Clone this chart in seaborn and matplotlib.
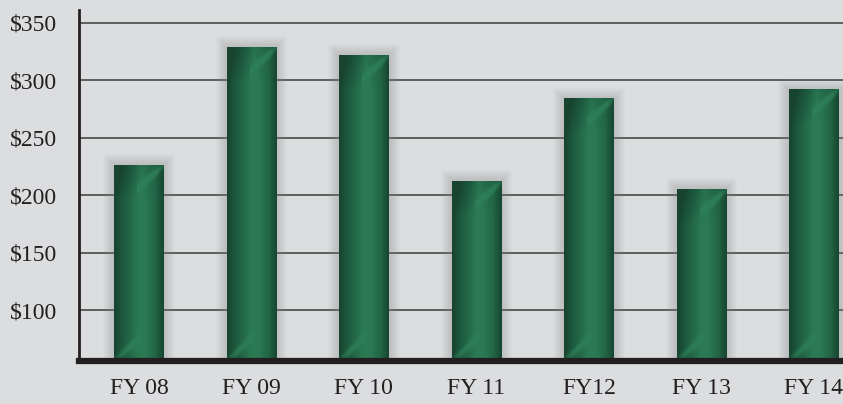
import seaborn as sns
import matplotlib
matplotlib.use('Agg')
import matplotlib.pyplot as plt
from matplotlib.colors import LinearSegmentedColormap
from matplotlib.patches import Rectangle
import pandas as pd
import numpy as np

years = ['FY 08', 'FY 09', 'FY 10', 'FY 11', 'FY12', 'FY 13', 'FY 14']
amounts = [226, 329, 322, 212, 284, 205, 292]
yticks = [100, 150, 200, 250, 300, 350]
ytick_labels = ['$100', '$150', '$200', '$250', '$300', '$350']

df = pd.DataFrame({'year': years, 'amount': amounts})

bg = '#dcdddf'
sns.set_style('white')
plt.rcParams['font.family'] = ['Liberation Serif', 'DejaVu Serif']

fig = plt.figure(figsize=(8.43, 4.04), dpi=100)
fig.patch.set_facecolor(bg)
ax = fig.add_axes([0.0937, 0.1064, 0.9063, 0.8688])
ax.set_facecolor(bg)

sns.barplot(data=df, x='year', y='amount', color='#236b48', width=0.44,
            saturation=1, linewidth=0, ax=ax, zorder=3)

ymin, ymax = 55.6, 361.3
ax.set_xlim(-0.533, 6.26)
ax.set_ylim(ymin, ymax)

# grid lines
for t in yticks:
    ax.axhline(t, color='#3a3a3a', lw=1.1, zorder=1)

# gradient fill + soft shadow on each bar
cmap = LinearSegmentedColormap.from_list('g', ['#17432f', '#1d5a3e', '#2b7953', '#2e805a'])
px_x = 6.793 / 764
px_y = (ymax - ymin) / 351

for p in ax.patches[:len(years)]:
    x, w, top = p.get_x(), p.get_width(), p.get_height()
    # shadow
    for k in range(1, 12):
        ax.add_patch(Rectangle((x - k * px_x, ymin), w + 2 * k * px_x, top - ymin + k * px_y,
                               color='#8a8b8d', alpha=0.035, lw=0, zorder=2))
    nw = 50
    nh = int(round((top - ymin) / px_y))
    X, Y = np.meshgrid(np.arange(nw), np.arange(nh))
    u = X / (nw - 1)
    horiz = np.interp(u, [0, 0.15, 0.55, 0.85, 1], [0.0, 0.3, 0.75, 0.45, 0.05])
    # diagonal highlights near top and bottom
    d_top = (nh - 1 - Y) - (nw - 1 - X) * 0.9
    top_streak = np.exp(-(d_top / 4.0) ** 2) * 0.35 * (u > 0.45)
    d_bot = Y - X * 0.9
    bot_streak = np.exp(-(d_bot / 4.0) ** 2) * 0.3 * (u < 0.55)
    top_dark = np.clip(1 - (nh - 1 - Y) / 35, 0, 1) * 0.35 * (1 - u)
    grad = np.clip(horiz + top_streak + bot_streak - top_dark, 0, 1)
    ax.imshow(grad, cmap=cmap, vmin=0, vmax=1, origin='lower',
              extent=[x, x + w, ymin, top], aspect='auto', zorder=4,
              interpolation='bilinear')

ax.set_xlim(-0.533, 6.26)
ax.set_ylim(ymin, ymax)

ax.set_yticks(yticks)
ax.set_yticklabels(ytick_labels, fontsize=17, color='#231f20')
ax.tick_params(axis='y', length=0, pad=16)
ax.tick_params(axis='x', length=0, pad=12)
ax.set_xticks(range(len(years)))
ax.set_xticklabels(years, fontsize=17, color='#231f20')
ax.set_xlabel('')
ax.set_ylabel('')

for s in ['top', 'right']:
    ax.spines[s].set_visible(False)
ax.spines['left'].set_color('#231f20')
ax.spines['left'].set_linewidth(2)
ax.spines['left'].set_zorder(5)
ax.spines['bottom'].set_color('#231f20')
ax.spines['bottom'].set_linewidth(4.5)
ax.spines['bottom'].set_zorder(6)

fig.savefig('out.png', dpi=100, facecolor=bg)
